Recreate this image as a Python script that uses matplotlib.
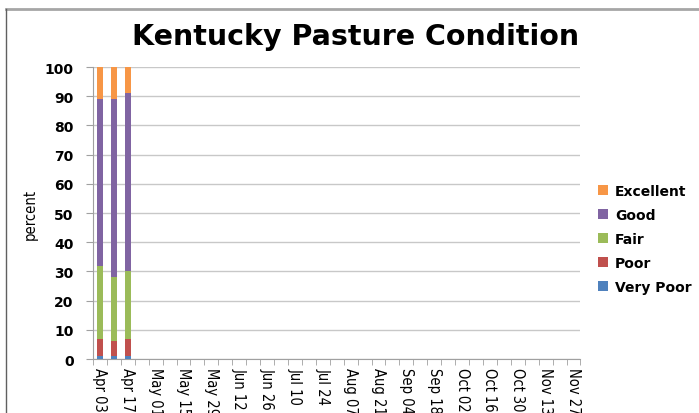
import matplotlib.pyplot as plt
from matplotlib.lines import Line2D
import numpy as np

weeks = ['Apr 03', 'Apr 10', 'Apr 17', 'Apr 24', 'May 01', 'May 08', 'May 15',
         'May 22', 'May 29', 'Jun 05', 'Jun 12', 'Jun 19', 'Jun 26', 'Jul 03',
         'Jul 10', 'Jul 17', 'Jul 24', 'Jul 31', 'Aug 07', 'Aug 14', 'Aug 21',
         'Aug 28', 'Sep 04', 'Sep 11', 'Sep 18', 'Sep 25', 'Oct 02', 'Oct 09',
         'Oct 16', 'Oct 23', 'Oct 30', 'Nov 06', 'Nov 13', 'Nov 20', 'Nov 27']

# reported weeks only (rest of season still empty)
very_poor = [1, 1, 1]
poor = [6, 5, 6]
fair = [25, 22, 23]
good = [57, 61, 61]
excellent = [11, 11, 9]

series = [('Very Poor', very_poor, '#4F81BD'),
          ('Poor', poor, '#C0504D'),
          ('Fair', fair, '#9BBB59'),
          ('Good', good, '#8064A2'),
          ('Excellent', excellent, '#F79646')]

fig = plt.figure(figsize=(6.99, 4.14), dpi=100)
ax = fig.add_axes([0.133, 0.1304, 0.6974, 0.7053])

x = np.arange(len(very_poor))
bottom = np.zeros(len(very_poor))
for name, vals, color in series:
    ax.bar(x, vals, width=0.43, bottom=bottom, color=color, label=name, zorder=3)
    bottom += np.array(vals)

ax.set_xlim(-0.5, len(weeks) - 0.5)
ax.set_ylim(0, 100)
ax.set_yticks(range(0, 101, 10))
ax.yaxis.grid(True, color='#C8C8C8', linewidth=1.0, zorder=0)

ax.set_xticks(np.arange(0, len(weeks), 2))
ax.set_xticklabels(weeks[::2], rotation=-90, fontsize=10.5,
                   fontfamily='DejaVu Sans', fontstretch='condensed')
ax.set_xticks(np.arange(-0.5, len(weeks), 1), minor=True)
ax.tick_params(axis='x', which='major', length=0, pad=6)
ax.tick_params(axis='x', which='minor', length=4, color='#A0A0A0')
ax.tick_params(axis='y', length=5, color='#A0A0A0', pad=9)
for lab in ax.get_yticklabels():
    lab.set_fontweight('bold')
    lab.set_fontsize(10)

for side in ['top', 'right']:
    ax.spines[side].set_visible(False)
ax.spines['left'].set_color('#A0A0A0')
ax.spines['bottom'].set_color('#A0A0A0')

ax.set_ylabel('percent', fontsize=10.5, fontstretch='condensed', labelpad=5)

fig.text(0.508, 0.91, 'Kentucky Pasture Condition', ha='center', va='center',
         fontsize=20.5, fontweight='bold')

handles, labels = ax.get_legend_handles_labels()
leg = fig.legend(handles[::-1], labels[::-1], loc='center left',
                 bbox_to_anchor=(0.838, 0.42), frameon=False,
                 handlelength=0.7, handleheight=0.7, handletextpad=0.5,
                 labelspacing=0.72, prop={'weight': 'bold', 'size': 10})

# chart frame
fig.add_artist(Line2D([0.0086, 1.0], [0.976, 0.976], color='#A6A6A6',
                      linewidth=2, transform=fig.transFigure))
fig.add_artist(Line2D([0.0086, 0.0086], [0.0, 0.976], color='#606060',
                      linewidth=1, transform=fig.transFigure))

fig.savefig('out.png', dpi=100)
